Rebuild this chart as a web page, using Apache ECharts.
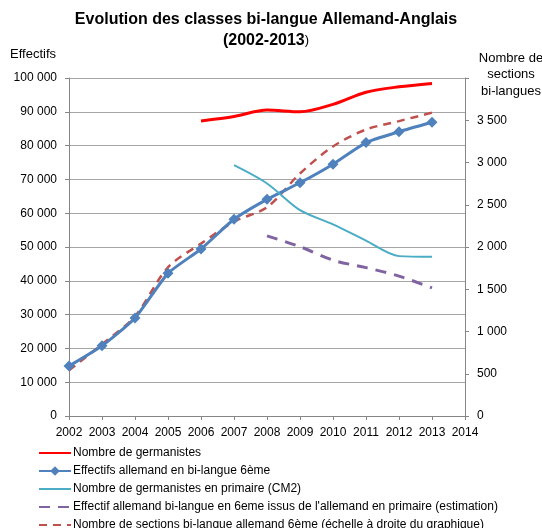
<!DOCTYPE html>
<html>
<head>
<meta charset="utf-8">
<script src="https://cdn.jsdelivr.net/npm/echarts@6/dist/echarts.min.js"></script>
<style>html,body{margin:0;padding:0;background:#fff}#c{width:542px;height:528px}</style>
</head>
<body>
<div id="c"></div>
<script>
const years = [2002, 2003, 2004, 2005, 2006, 2007, 2008, 2009, 2010, 2011, 2012, 2013];
const germanistes = [null, null, null, null, 87300, 88600, 90500, 90000, 92200, 95800, 97400, 98400];
const bilangue6e = [14800, 20800, 29000, 42200, 49400, 58200, 64100, 69000, 74500, 80900, 84100, 86900];
const primaireCM2 = [null, null, null, null, null, 74200, 68800, 60900, 56700, 51900, 47300, 47100];
const estimation = [null, null, null, null, null, null, 53300, 50100, 46100, 43900, 41400, 37900];
const sections = [540, 850, 1180, 1760, 2040, 2300, 2470, 2870, 3190, 3390, 3490, 3590];
const leftTicks = [0, 10000, 20000, 30000, 40000, 50000, 60000, 70000, 80000, 90000, 100000];
const rightTicks = [0, 500, 1000, 1500, 2000, 2500, 3000, 3500];
const names = [
  'Nombre de germanistes',
  'Effectifs allemand en bi-langue 6ème',
  'Nombre de germanistes en primaire (CM2)',
  "Effectif allemand bi-langue en 6eme issus de l'allemand en primaire (estimation)",
  'Nombre de sections bi-langue allemand 6ème (échelle à droite du graphique)'
];

function pairs(arr) { return years.map((y, i) => [y, arr[i]]).filter(p => p[1] != null); }
function fmt(v) { return String(v).replace(/\B(?=(\d{3})+(?!\d))/g, ' '); }

const FONT = 'Liberation Sans, Arial, sans-serif';
const chart = echarts.init(document.getElementById('c'));
chart.setOption({
  animation: false,
  textStyle: { fontFamily: FONT },
  title: [
    {
      text: '{b|Evolution des classes bi-langue Allemand-Anglais}\n{b|(2002-2013}{n|)}',
      left: 266, top: 9, textAlign: 'center', padding: 0,
      textStyle: {
        rich: {
          b: { fontFamily: FONT, fontWeight: 'bold', fontSize: 16, color: '#000', lineHeight: 21, align: 'center' },
          n: { fontFamily: FONT, fontWeight: 'normal', fontSize: 13, color: '#000', lineHeight: 21 }
        }
      }
    },
    { text: 'Effectifs', left: 10, top: 48, padding: 0, textStyle: { fontFamily: FONT, fontWeight: 'normal', fontSize: 13, color: '#000' } },
    { text: 'Nombre de\nsections\nbi-langues', left: 511, top: 50, padding: 0, textAlign: 'center',
      textStyle: { fontFamily: FONT, fontWeight: 'normal', fontSize: 13, color: '#000', lineHeight: 16.5, align: 'center' } }
  ],
  grid: { left: 69, right: 77, top: 78, bottom: 112 },
  legend: {
    orient: 'vertical', left: 38, top: 447, height: 100, padding: 0,
    itemWidth: 32, itemHeight: 12, itemGap: 6,
    textStyle: { fontFamily: FONT, fontSize: 12, color: '#000', padding: [0, 0, 0, -3] },
    data: [
      { name: names[0], itemStyle: { opacity: 0 } },
      { name: names[1] },
      { name: names[2], itemStyle: { opacity: 0 } },
      { name: names[3], itemStyle: { opacity: 0 } },
      { name: names[4], itemStyle: { opacity: 0 } }
    ]
  },
  xAxis: {
    type: 'value', min: 2002, max: 2014, interval: 1,
    axisLine: { lineStyle: { color: '#868686' } },
    axisTick: { show: true, length: 4, lineStyle: { color: '#868686' } },
    splitLine: { show: false },
    axisLabel: { formatter: v => String(v), color: '#000', fontSize: 12, margin: 11 }
  },
  yAxis: [
    {
      type: 'value', min: 0, max: 100000, interval: 10000,
      axisLine: { show: true, lineStyle: { color: '#868686' } },
      axisTick: { show: true, length: 4, lineStyle: { color: '#868686' } },
      splitLine: { show: true, lineStyle: { color: '#a6a6a6' } },
      axisLabel: { formatter: v => leftTicks.includes(v) ? fmt(v) : '', color: '#000', fontSize: 12, margin: 12 }
    },
    {
      type: 'value', min: 0, max: 4000, interval: 500, position: 'right',
      axisLine: { show: true, lineStyle: { color: '#868686' } },
      axisTick: { show: true, length: 4, lineStyle: { color: '#868686' } },
      splitLine: { show: false },
      axisLabel: { formatter: v => rightTicks.includes(v) ? fmt(v) : '', color: '#000', fontSize: 12, margin: 12 }
    }
  ],
  series: [
    { name: names[0], type: 'line', data: pairs(germanistes), smooth: 0.3, symbol: 'none',
      lineStyle: { color: '#ff0000', width: 3 }, itemStyle: { color: '#ff0000' } },
    { name: names[4], type: 'line', yAxisIndex: 1, data: pairs(sections), smooth: 0.3, symbol: 'none',
      lineStyle: { color: '#c0504d', width: 2.5, type: [8, 6] }, itemStyle: { color: '#c0504d' } },
    { name: names[1], type: 'line', data: pairs(bilangue6e), smooth: 0.2, symbol: 'diamond', symbolSize: 11,
      lineStyle: { color: '#4f81bd', width: 3 }, itemStyle: { color: '#4f81bd' } },
    { name: names[2], type: 'line', data: pairs(primaireCM2), smooth: 0.3, symbol: 'none',
      lineStyle: { color: '#4bacc6', width: 2 }, itemStyle: { color: '#4bacc6' } },
    { name: names[3], type: 'line', data: pairs(estimation), smooth: 0.3, symbol: 'none',
      lineStyle: { color: '#8064a2', width: 3, type: [11, 8] }, itemStyle: { color: '#8064a2' } }
  ]
});
</script>
</body>
</html>
